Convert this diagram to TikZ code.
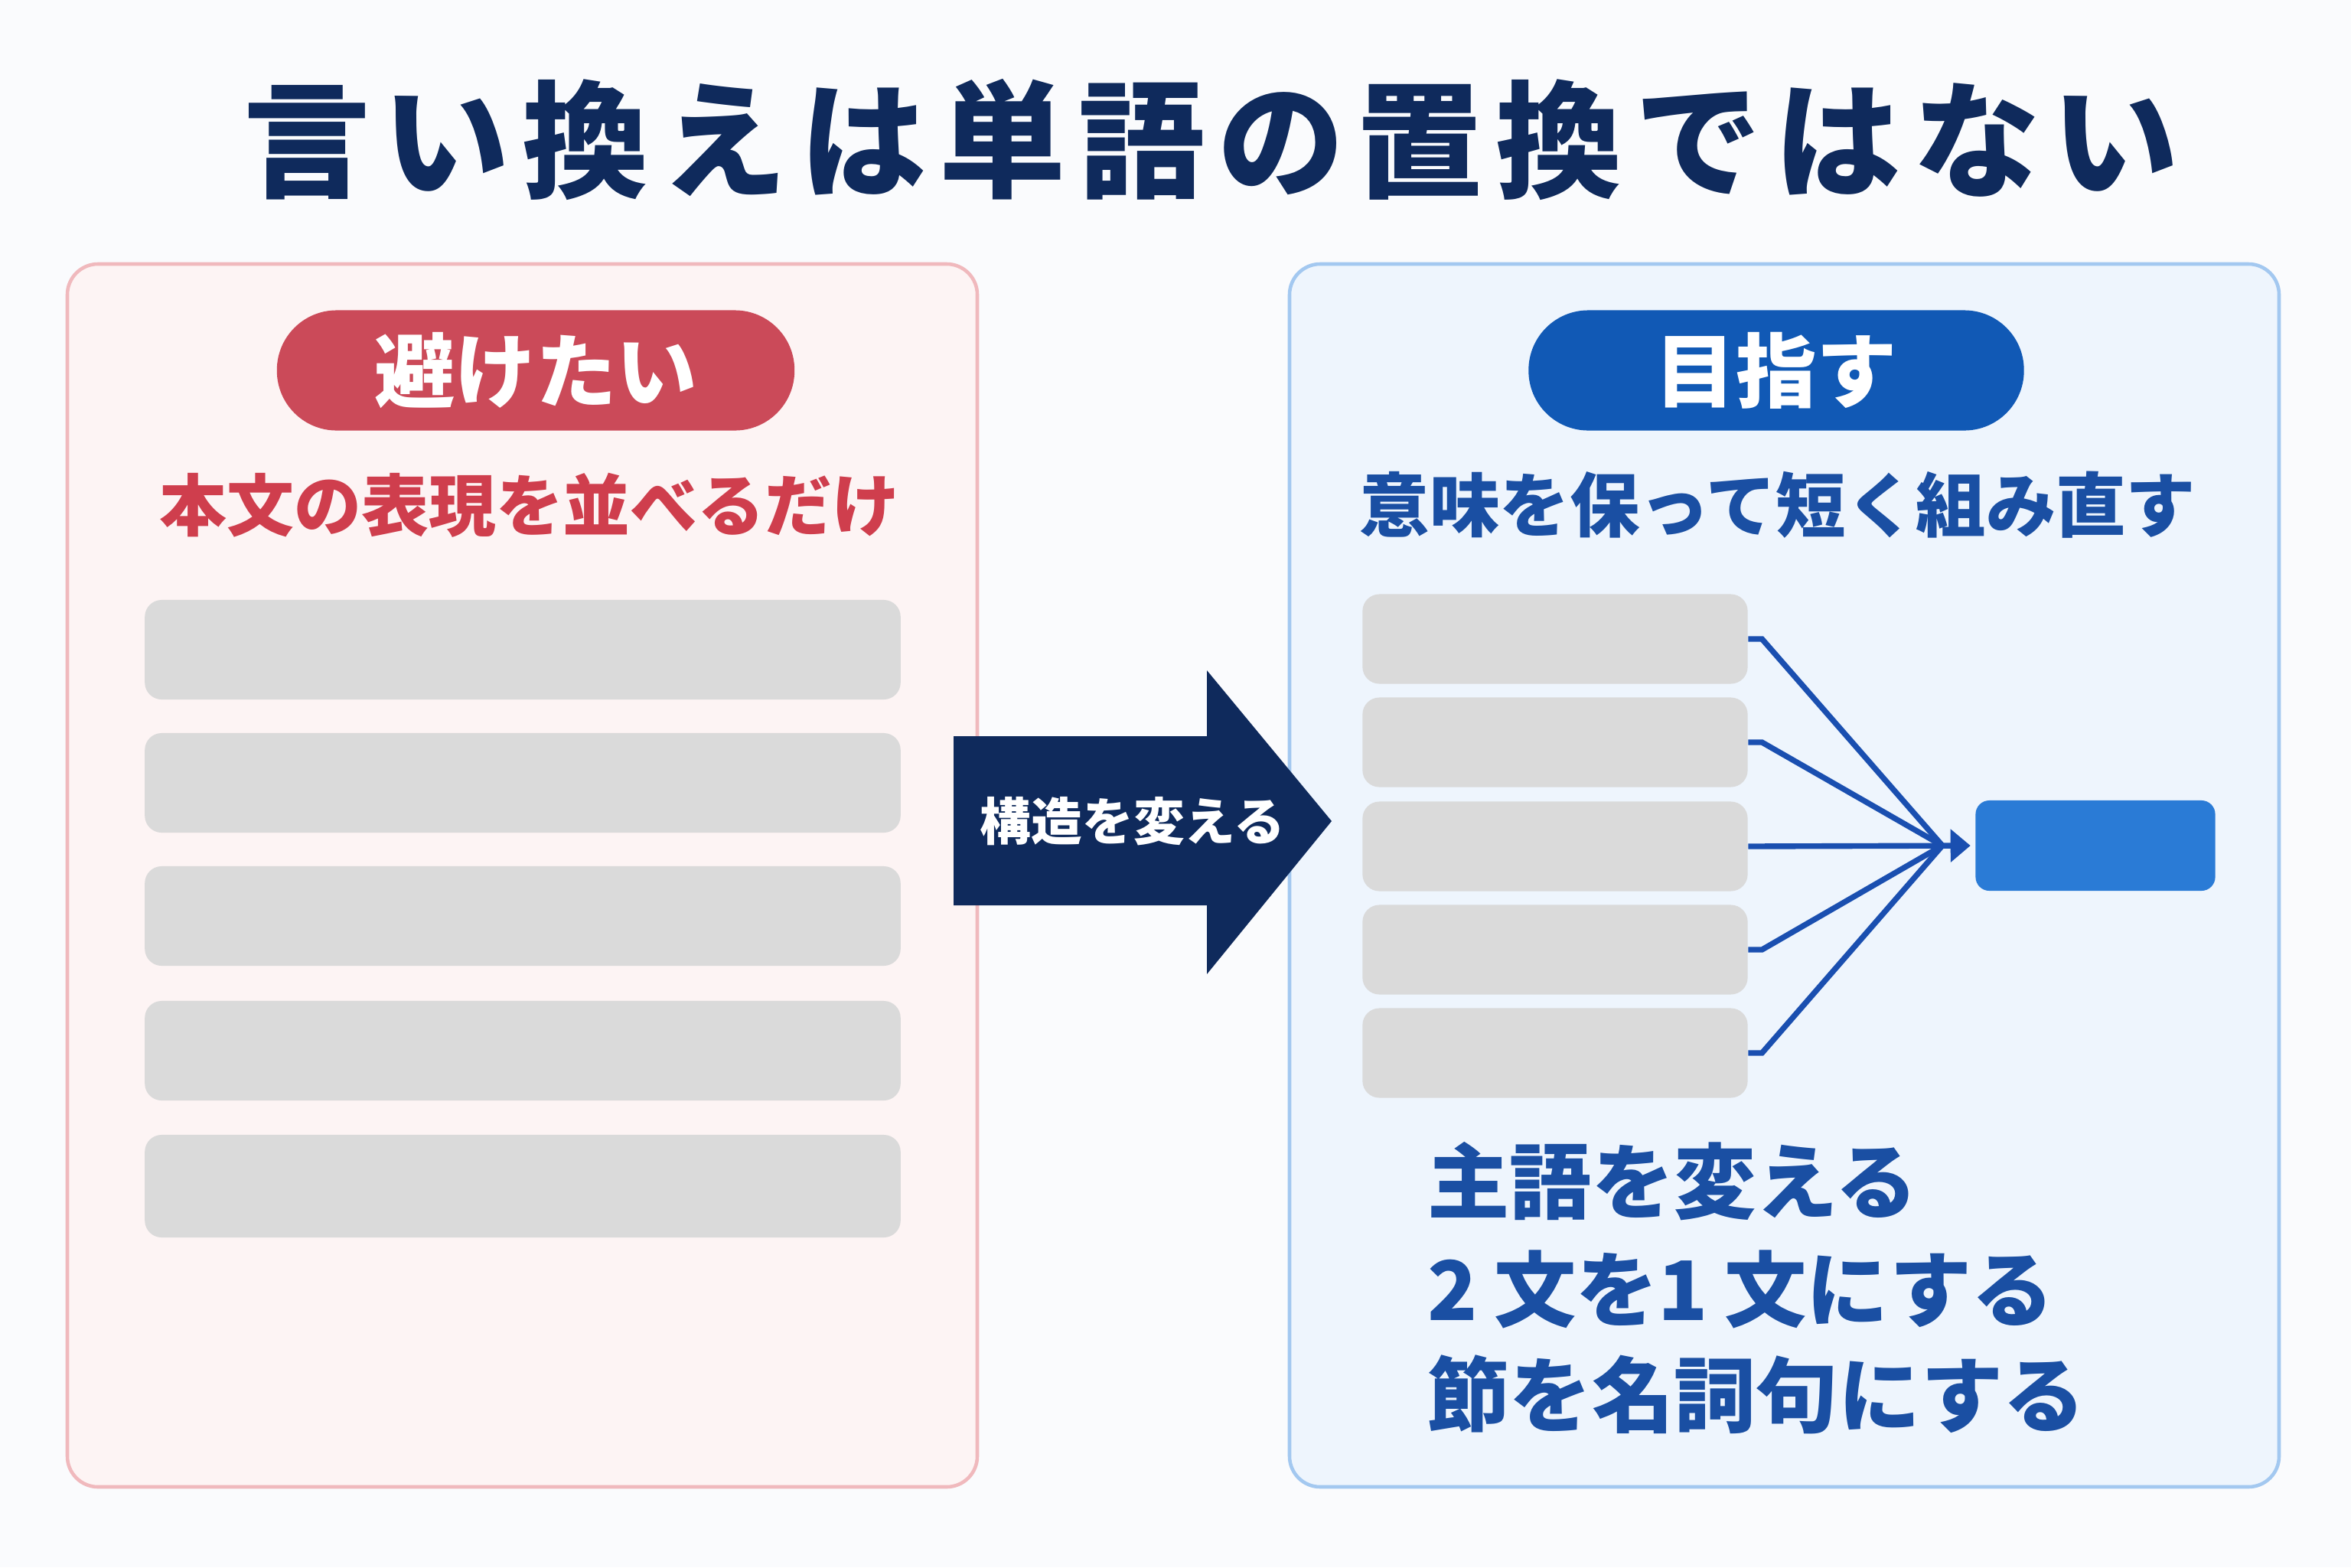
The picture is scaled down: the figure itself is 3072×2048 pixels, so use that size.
\documentclass[tikz,border=0pt]{standalone}
\usepackage{fontspec}
\usetikzlibrary{arrows.meta}
\newfontfamily\jp{Noto Sans CJK JP}
\newfontfamily\jptitle{Noto Sans CJK JP}[LetterSpace=10]
\definecolor{bgc}{HTML}{FAFBFD}
\definecolor{navy}{HTML}{0F2A5C}
\definecolor{redline}{HTML}{F0B9BD}
\definecolor{redfill}{HTML}{FDF4F4}
\definecolor{redpill}{HTML}{CB4A59}
\definecolor{redtext}{HTML}{CF3E4D}
\definecolor{blueline}{HTML}{A3C8F0}
\definecolor{bluefill}{HTML}{EEF5FD}
\definecolor{bluepill}{HTML}{1159B5}
\definecolor{bluetext}{HTML}{1A4FA3}
\definecolor{barc}{HTML}{DADADA}
\definecolor{boxblue}{HTML}{2A7BD6}
\definecolor{connc}{HTML}{1A4FB0}
\tikzset{
  panel/.style={rounded corners=0.4cm, line width=1.3pt},
  pill/.style={rounded corners=0.78cm, minimum height=1.57cm, inner sep=0pt, text=white, font=\jp\bfseries\fontsize{30}{36}\selectfont},
  bar/.style={fill=barc, rounded corners=0.22cm, inner sep=0pt, draw=none},
  conn/.style={draw=connc, line width=2.1pt, line join=miter},
  listtext/.style={anchor=west, text=bluetext, font=\jp\bfseries\fontsize{30.5}{36}\selectfont, inner sep=0pt}
}
\begin{document}
\begin{tikzpicture}[x=0.01cm,y=-0.01cm]
\fill[bgc] (0,0) rectangle (3072,2048);
\useasboundingbox (0,0) rectangle (3072,2048);

% title
\node[text=navy, font=\jptitle\bfseries\fontsize{47}{56}\selectfont, inner sep=0pt] (title) at (1583,182) {言い換えは単語の置換ではない};

% panels
\draw[panel, draw=redline, fill=redfill] (88,345) rectangle (1277,1943);
\draw[panel, draw=blueline, fill=bluefill] (1685,345) rectangle (2978,1943);

% left side
\node[pill, fill=redpill, minimum width=6.76cm] (avoid) at (700,484) {避けたい};
\node[text=redtext, font=\jp\bfseries\fontsize{25}{30}\selectfont, inner sep=0pt] (avoidsub) at (692,660) {本文の表現を並べるだけ};
\node[bar, minimum width=9.87cm, minimum height=1.30cm] (lb1) at (683,849) {};
\node[bar, minimum width=9.87cm, minimum height=1.30cm] (lb2) at (683,1023) {};
\node[bar, minimum width=9.87cm, minimum height=1.30cm] (lb3) at (683,1197) {};
\node[bar, minimum width=9.87cm, minimum height=1.30cm] (lb4) at (683,1373) {};
\node[bar, minimum width=9.87cm, minimum height=1.34cm] (lb5) at (683,1550) {};

% big arrow
\fill[navy] (1246,962) -- (1577,962) -- (1577,876) -- (1740,1073) -- (1577,1273) -- (1577,1183) -- (1246,1183) -- cycle;
\node[text=white, font=\jp\bfseries\fontsize{19}{23}\selectfont, inner sep=0pt] (arrowlabel) at (1480,1073) {構造を変える};

% right side
\node[pill, fill=bluepill, minimum width=6.47cm] (aim) at (2321,484) {目指す};
\node[text=bluetext, font=\jp\bfseries\fontsize{26}{31}\selectfont, inner sep=0pt] (aimsub) at (2323,660) {意味を保って短く組み直す};
\node[bar, minimum width=5.03cm, minimum height=1.17cm] (rb1) at (2032,835) {};
\node[bar, minimum width=5.03cm, minimum height=1.17cm] (rb2) at (2032,970) {};
\node[bar, minimum width=5.03cm, minimum height=1.17cm] (rb3) at (2032,1106) {};
\node[bar, minimum width=5.03cm, minimum height=1.17cm] (rb4) at (2032,1241) {};
\node[bar, minimum width=5.03cm, minimum height=1.17cm] (rb5) at (2032,1376) {};
\node[fill=boxblue, rounded corners=0.18cm, minimum width=3.13cm, minimum height=1.18cm, inner sep=0pt] (target) at (2738,1105) {};

\coordinate (conv) at (2538,1105);
\draw[conn] (rb1.east) -- ++(18,0) -- (conv);
\draw[conn] (rb2.east) -- ++(18,0) -- (conv);
\draw[conn] (rb4.east) -- ++(18,0) -- (conv);
\draw[conn] (rb5.east) -- ++(18,0) -- (conv);
\draw[conn, -{Triangle[length=0.26cm, width=0.42cm]}, shorten >=0.06cm] (rb3.east) -- (target.west);

% list
\node[listtext] (l1) at (1865,1544) {主語を変える};
\node[listtext] (l2) at (1865,1685) {2\hspace{0.2em}文を1\hspace{0.2em}文にする};
\node[listtext] (l3) at (1865,1822) {節を名詞句にする};
\end{tikzpicture}
\end{document}
